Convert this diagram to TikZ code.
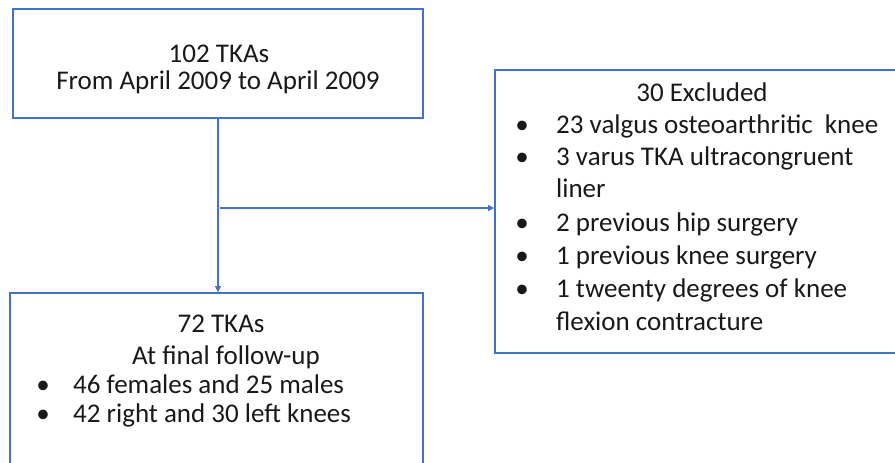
\documentclass[tikz,border=0pt]{standalone}
\usepackage{fontspec}
\setmainfont{Carlito}
\usetikzlibrary{arrows.meta,calc}
\definecolor{boxblue}{RGB}{68,114,196}
\tikzset{
  box/.style={draw=boxblue,line width=1.8pt,rectangle,inner sep=0pt},
  txt/.style={inner sep=0pt,font=\fontsize{27}{32}\selectfont,text=black!90},
  arr/.style={draw=boxblue,line width=1.4pt,-{Triangle[length=6pt,width=6pt]}},
}
\begin{document}
\begin{tikzpicture}[x=1pt,y=-1pt]
\useasboundingbox (0,0) rectangle (895,463);
% boxes
\node[box,minimum width=410pt,minimum height=109pt] (topbox) at (218,63.5) {};
\node[box,minimum width=402pt,minimum height=283pt] (rightbox) at (696,211.5) {};
\node[box,minimum width=413pt,minimum height=174pt] (botbox) at (216.5,380) {};
% top text
\node[txt,anchor=mid] (t1) at (219,60) {102 TKAs};
\node[txt,anchor=mid] (t2) at (218,87) {From April 2009 to April 2009};
% right text
\node[txt,anchor=mid] (r0) at (702,99) {30 Excluded};
\foreach \y/\name/\t in {131/r1/{23 valgus osteoarthritic\ \ knee},163/r2/{3 varus TKA ultracongruent},229/r4/{2 previous hip surgery},262/r5/{1 previous knee surgery},295/r6/{1 tweenty degrees of knee}}{
  \node[txt,anchor=mid] (\name b) at (522,\y) {\textbullet};
  \node[txt,anchor=mid west] (\name) at (556,\y) {\t};
}
\node[txt,anchor=mid west] (r3) at (556,195) {liner};
\node[txt,anchor=mid west] (r7) at (556,328) {flexion contracture};
% bottom text
\node[txt,anchor=mid] (b1) at (221,330) {72 TKAs};
\node[txt,anchor=mid] (b2) at (226,362) {At final follow-up};
\node[txt,anchor=mid] (b3b) at (43,391) {\textbullet};
\node[txt,anchor=mid west] (b3) at (73,391) {46 females and 25 males};
\node[txt,anchor=mid] (b4b) at (43,420) {\textbullet};
\node[txt,anchor=mid west] (b4) at (73,420) {42 right and 30 left knees};
% connectors
\coordinate (j) at (219.5,208);
\draw[arr] (topbox.south) -- (topbox.south |- botbox.north);
\draw[arr] (j) -- (j -| rightbox.west);
\end{tikzpicture}
\end{document}
